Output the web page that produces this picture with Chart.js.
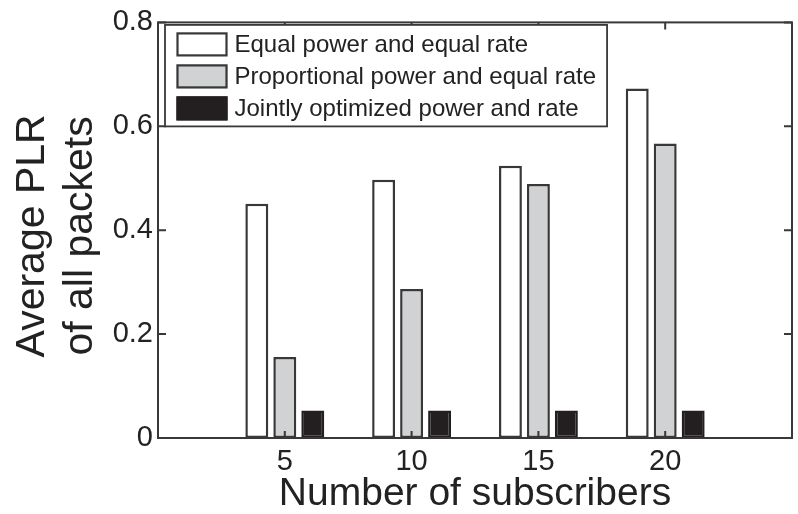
<!DOCTYPE html>
<html lang="en">
<head>
    <meta charset="UTF-8">
    <title>Average PLR vs number of subscribers</title>
    <script src="https://cdn.jsdelivr.net/npm/chart.js"></script>
    <style>
        * { margin: 0; padding: 0; box-sizing: border-box; }
        body { background: #fff; width: 798px; height: 514px; overflow: hidden; }
        canvas { display: block; }
    </style>
</head>
<body>
    <canvas id="plr" width="798" height="514"></canvas>

    <script>
        // data
        const subscribers = [5, 10, 15, 20];
        const equalPowerEqualRate = [0.451, 0.497, 0.524, 0.673];
        const propPowerEqualRate = [0.156, 0.287, 0.489, 0.567];
        const jointOptimized = [0.053, 0.053, 0.053, 0.053];
        const seriesNames = [
            'Equal power and equal rate',
            'Proportional power and equal rate',
            'Jointly optimized power and rate'
        ];
        const xTicks = [5, 10, 15, 20];
        const yTicks = [0, 0.2, 0.4, 0.6, 0.8];
        const yTickLabels = ['0', '0.2', '0.4', '0.6', '0.8'];

        const FONT = '"Liberation Sans", Arial, Helvetica, sans-serif';
        const INK = '#222222';
        const EDGE = '#383838';

        // boxed axes with inward ticks + legend inside the plot, matlab style
        const boxPlugin = {
            id: 'boxPlugin',
            afterDatasetsDraw(chart) {
                const { ctx, chartArea: a, scales } = chart;
                const x = scales.x, y = scales.y;
                ctx.save();
                ctx.strokeStyle = EDGE;
                ctx.lineWidth = 2;
                ctx.strokeRect(a.left, a.top, a.right - a.left, a.bottom - a.top);
                ctx.beginPath();
                y.ticks.forEach(t => {
                    const py = y.getPixelForValue(t.value);
                    ctx.moveTo(a.left, py); ctx.lineTo(a.left + 8, py);
                    ctx.moveTo(a.right, py); ctx.lineTo(a.right - 8, py);
                });
                x.ticks.forEach(t => {
                    const px = x.getPixelForValue(t.value);
                    ctx.moveTo(px, a.top); ctx.lineTo(px, a.top + 7);
                    ctx.moveTo(px, a.bottom); ctx.lineTo(px, a.bottom - 7);
                });
                ctx.stroke();

                // legend
                const sets = chart.data.datasets;
                ctx.font = '24px ' + FONT;
                let maxW = 0;
                sets.forEach(d => { maxW = Math.max(maxW, ctx.measureText(d.label).width); });
                const lx = a.left + 7, ly = a.top + 2.5;
                const boxW = 51, boxH = 24, rowH = 32, padL = 11.5, padT = 7.5, gap = 7;
                const w = padL + boxW + gap + maxW + 11;
                const h = padT + rowH * (sets.length - 1) + boxH + 6;
                ctx.fillStyle = '#fff';
                ctx.fillRect(lx, ly, w, h);
                ctx.lineWidth = 1.8;
                ctx.strokeStyle = EDGE;
                ctx.strokeRect(lx, ly, w, h);
                sets.forEach((d, i) => {
                    const by = ly + padT + i * rowH;
                    ctx.fillStyle = d.backgroundColor;
                    ctx.fillRect(lx + padL, by, boxW, boxH);
                    ctx.lineWidth = 2.2;
                    ctx.strokeStyle = d.borderColor;
                    ctx.strokeRect(lx + padL + 1, by + 1, boxW - 2, boxH - 2);
                    ctx.fillStyle = INK;
                    ctx.textBaseline = 'middle';
                    ctx.textAlign = 'left';
                    ctx.fillText(d.label, lx + padL + boxW + gap, by + boxH / 2 + 1);
                });
                ctx.restore();
            }
        };

        const barStyle = { borderWidth: 2.5, borderSkipped: false, categoryPercentage: 0.662, barPercentage: 0.82 };

        new Chart(document.getElementById('plr'), {
            type: 'bar',
            data: {
                labels: subscribers,
                datasets: [
                    Object.assign({ label: seriesNames[0], data: equalPowerEqualRate,
                        backgroundColor: '#ffffff', borderColor: EDGE }, barStyle),
                    Object.assign({ label: seriesNames[1], data: propPowerEqualRate,
                        backgroundColor: '#d1d2d4', borderColor: EDGE }, barStyle),
                    Object.assign({ label: seriesNames[2], data: jointOptimized,
                        backgroundColor: '#231f20', borderColor: '#231f20' }, barStyle)
                ]
            },
            options: {
                responsive: false,
                animation: false,
                devicePixelRatio: 1,
                layout: { padding: { top: 21, right: 6, left: 0, bottom: 0 } },
                plugins: {
                    legend: { display: false },
                    tooltip: { enabled: false }
                },
                scales: {
                    x: {
                        type: 'linear',
                        min: 0,
                        max: 25,
                        offset: false,
                        afterBuildTicks: s => { s.ticks = xTicks.map(v => ({ value: v })); },
                        afterFit: s => { s.height = 76; },
                        grid: { display: false, drawTicks: false, offset: false },
                        border: { display: false },
                        ticks: { color: INK, font: { family: FONT, size: 29 }, padding: 7, maxRotation: 0 },
                        title: {
                            display: true,
                            text: 'Number of subscribers',
                            color: INK,
                            font: { family: FONT, size: 39, lineHeight: 1 },
                            padding: { top: 0, bottom: 0 }
                        }
                    },
                    y: {
                        min: 0,
                        max: 0.8,
                        afterBuildTicks: s => { s.ticks = yTicks.map(v => ({ value: v })); },
                        afterFit: s => { s.width = 158; },
                        grid: { display: false, drawTicks: false },
                        border: { display: false },
                        ticks: {
                            color: INK,
                            font: { family: FONT, size: 29 },
                            padding: 5,
                            callback: (v, i) => yTickLabels[i]
                        },
                        title: {
                            display: true,
                            // trailing space nudges the centred title down a little
                            text: ['Average PLR ', 'of all packets '],
                            color: INK,
                            font: { family: FONT, size: 41, lineHeight: 1.18 },
                            padding: { top: 8, bottom: 0 }
                        }
                    }
                }
            },
            plugins: [boxPlugin]
        });
    </script>
</body>
</html>
